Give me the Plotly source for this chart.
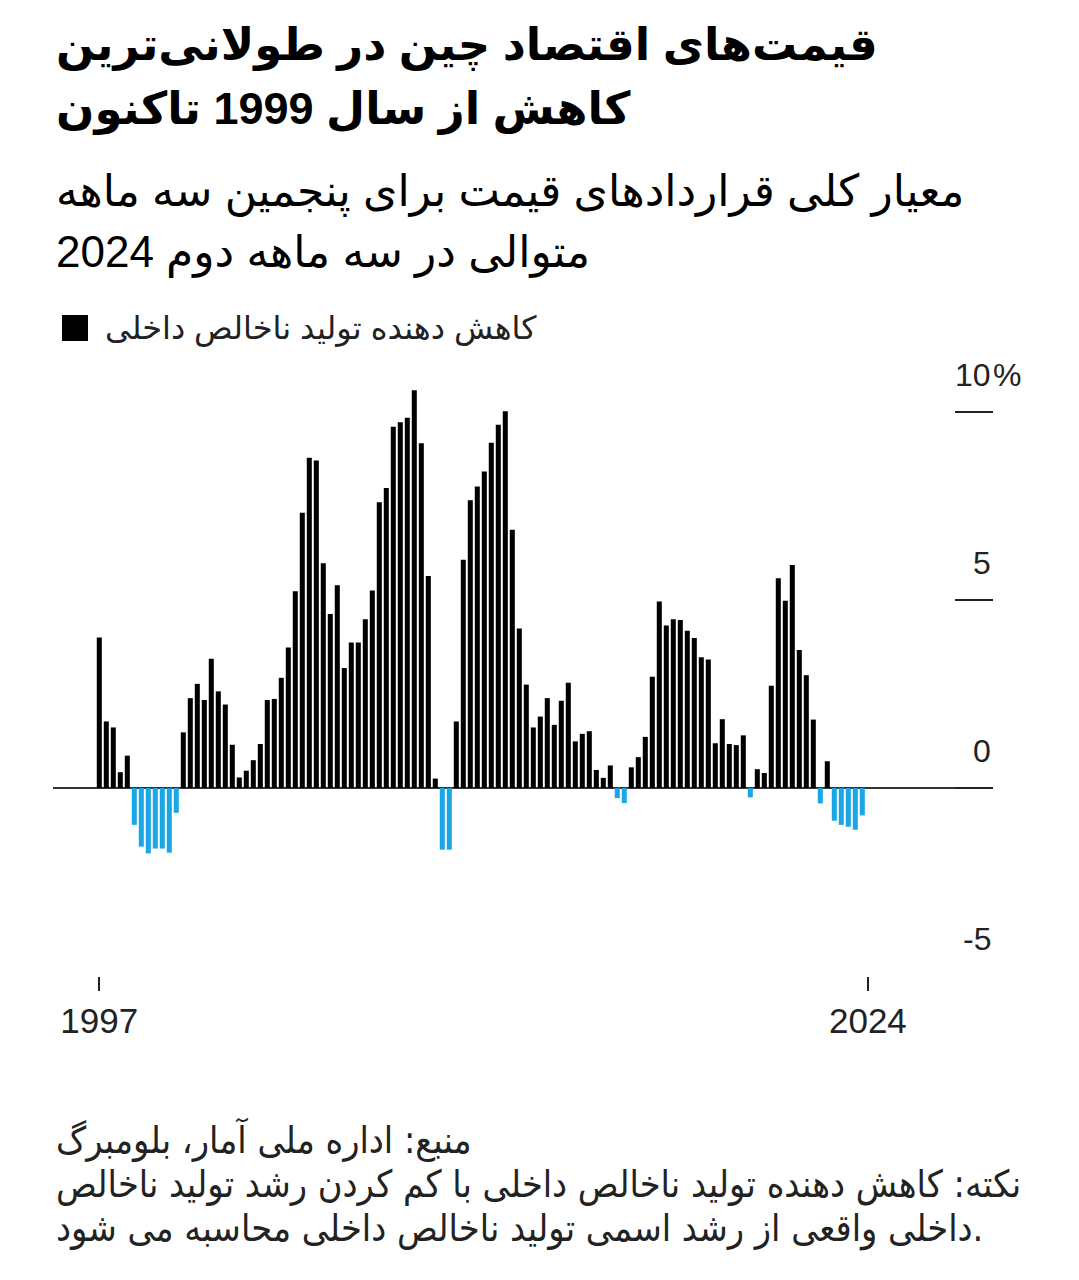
import plotly.graph_objects as go

W, H = 1079, 1280

# quarterly GDP deflator, % y/y, 1997 Q1 .. 2024 Q2
years = list(range(1997, 2025))
deflator = [
    4.0, 1.77, 1.61, 0.42,
    0.86, -0.98, -1.56, -1.74,
    -1.61, -1.61, -1.72, -0.66,
    1.48, 2.39, 2.77, 2.34,
    3.44, 2.57, 2.22, 1.15,
    0.28, 0.46, 0.74, 1.17,
    2.34, 2.37, 2.93, 3.74,
    5.23, 7.32, 8.78, 8.71,
    5.98, 4.63, 5.39, 3.19,
    3.87, 3.87, 4.49, 5.25,
    7.60, 7.98, 9.61, 9.73,
    9.85, 10.58, 9.17, 5.64,
    0.25, -1.64, -1.64, 1.77,
    6.07, 7.65, 8.02, 8.42,
    9.18, 9.66, 10.02, 6.87,
    4.24, 2.75, 1.61, 1.90,
    2.39, 1.68, 2.32, 2.80,
    1.24, 1.44, 1.51, 0.48,
    0.27, 0.60, -0.27, -0.40,
    0.55, 0.82, 1.36, 2.96,
    4.96, 4.32, 4.49, 4.47,
    4.18, 3.99, 3.48, 3.42,
    1.19, 1.83, 1.17, 1.14,
    1.40, -0.25, 0.50, 0.40,
    2.72, 5.58, 4.98, 5.93,
    3.67, 3.00, 1.82, -0.41,
    0.71, -0.87, -0.98, -1.03,
    -1.11, -0.73,
]
quarters = [f"{y} Q{q}" for y in years for q in range(1, 5)][: len(deflator)]

x_tick_labels = ["1997", "2024"]
y_tick_vals = [-5, 0, 5, 10]
y_tick_text = ["-5", "0", "5", "10"]

title_lines = ["قیمت‌های اقتصاد چین در طولانی‌ترین", "کاهش از سال 1999 تاکنون"]
subtitle_lines = [
    "معیار کلی قراردادهای قیمت برای پنجمین سه ماهه",
    "متوالی در سه ماهه دوم 2024",
]
legend_label = "کاهش دهنده تولید ناخالص داخلی"
footer_lines = [
    "منبع: اداره ملی آمار، بلومبرگ",
    "نکته: کاهش دهنده تولید ناخالص داخلی با کم کردن رشد تولید ناخالص",
    "داخلی واقعی از رشد اسمی تولید ناخالص داخلی محاسبه می شود.",
]

FONT = "Liberation Sans, DejaVu Sans, sans-serif"
FOOT_FONT = "DejaVu Sans Condensed, DejaVu Sans, sans-serif"
BLACK = "#000000"
BLUE = "#1ba6e6"

# plot box in pixels
L, R, T, B = 53, 993, 374, 976
PX_PER_UNIT = 37.6
PITCH = 7.0
first_bar_px = 99.3

y_top = (788 - T) / PX_PER_UNIT
x0 = -(first_bar_px - L) / PITCH
x1 = x0 + (R - L) / PITCH


def py(y_px):
    return (B - y_px) / (B - T)


def px(x_px):
    return (x_px - L) / (R - L)


idx = list(range(len(deflator)))
colors = [BLACK if v >= 0 else BLUE for v in deflator]

fig = go.Figure()
fig.add_trace(
    go.Bar(
        x=idx,
        y=deflator,
        marker=dict(color=colors, line_width=0),
        customdata=quarters,
        hovertemplate="%{customdata}: %{y:.2f}%<extra></extra>",
        showlegend=False,
    )
)

annotations = []
for i, line in enumerate(title_lines):
    annotations.append(dict(text=f"<b>{line}</b>", x=px(55), y=py(45 + 64 * i),
                            font=dict(size=45, color="#000", family=FONT)))
for i, line in enumerate(subtitle_lines):
    annotations.append(dict(text=line, x=px(55), y=py(192 + 61 * i),
                            font=dict(size=44, color="#000", family=FONT)))
annotations.append(dict(text=legend_label, x=px(104), y=py(328),
                        font=dict(size=32, color="#222", family=FONT)))
for i, line in enumerate(footer_lines):
    annotations.append(dict(text=line, x=px(55), y=py(1140 + 44 * i),
                            font=dict(size=37.5, color="#222", family=FOOT_FONT)))
for v, t in zip(y_tick_vals, y_tick_text):
    annotations.append(dict(text=t, x=px(992), xanchor="right", y=v, yref="y", yshift=37,
                            font=dict(size=32, color="#222", family=FONT)))
annotations.append(dict(text="%", x=px(992), y=y_tick_vals[-1], yref="y", yshift=37,
                        font=dict(size=32, color="#222", family=FONT)))

for a in annotations:
    a.setdefault("xref", "paper")
    a.setdefault("yref", "paper")
    a.setdefault("xanchor", "left")
    a.setdefault("yanchor", "middle")
    a["showarrow"] = False
    a["borderpad"] = 0

fig.update_layout(
    width=W,
    height=H,
    paper_bgcolor="white",
    plot_bgcolor="white",
    margin=dict(l=L, r=W - R, t=T, b=H - B, pad=0),
    bargap=0.28,
    showlegend=False,
    annotations=annotations,
    shapes=[
        dict(type="rect", xref="paper", yref="paper", x0=px(62), x1=px(88), y0=py(315), y1=py(341),
             fillcolor=BLACK, line_width=0),
    ],
    xaxis=dict(
        range=[x0, x1],
        tickvals=[idx[0], idx[-1] + 0.8],
        ticktext=x_tick_labels,
        ticks="outside",
        ticklen=14,
        tickwidth=1.5,
        tickcolor="#222",
        tickfont=dict(size=35, color="#222", family=FONT),
        ticklabelstandoff=0,
        showgrid=False,
        showline=False,
        zeroline=False,
    ),
    yaxis=dict(
        range=[-5, y_top],
        side="right",
        tickvals=y_tick_vals,
        showticklabels=False,
        ticks="inside",
        ticklen=38,
        tickwidth=1.5,
        tickcolor="#222",
        showgrid=False,
        showline=False,
        zeroline=True,
        zerolinecolor="#333",
        zerolinewidth=2,
    ),
)

fig.write_html(
    "out.html",
    config={"displayModeBar": False},
    post_script="document.body.style.margin = '0';",
)
